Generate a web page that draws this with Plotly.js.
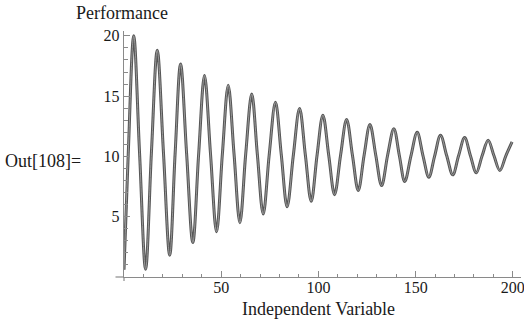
<!DOCTYPE html>
<html>
<head>
<meta charset="utf-8">
<script src="https://cdn.plot.ly/plotly-3.0.1.min.js"></script>
<style>
html,body{margin:0;padding:0;background:#fff;}
</style>
</head>
<body>
<div id="chart"></div>
<script>
// Key points: start, crossings, peaks and troughs
var xValues = [0, 2.2, 5, 8.0, 11.1, 14.1, 17.1, 20.3, 23.5, 26.3, 29.1, 32.2, 35.4, 38.4, 41.4, 44.5,
  47.6, 50.6, 53.6, 56.6, 59.6, 62.6, 65.7, 68.6, 71.6, 74.7, 77.9, 80.9, 83.9, 87.1, 90.3, 93.3,
  96.3, 99.3, 102.3, 105.3, 108.3, 111.4, 114.5, 117.5, 120.5, 123.5, 126.5, 129.5, 132.5, 135.6,
  138.8, 141.6, 144.4, 147.6, 150.8, 153.8, 156.8, 159.8, 162.8, 166.0, 169.1, 172.1, 175.2, 178.2,
  181.2, 184.2, 187.3, 190.3, 193.3, 196.4, 199.6];
var yValues = [0.6, 10.3, 20.0, 10.3, 0.64, 10.3, 18.8, 10.3, 1.8, 10.25, 17.67, 10.25, 2.86, 10.2, 16.7, 10.2,
  3.75, 10.2, 15.9, 10.2, 4.5, 10.2, 15.17, 10.15, 5.22, 10.15, 14.5, 10.15, 5.83, 10.1, 13.97, 10.1,
  6.28, 10.1, 13.42, 10.1, 6.83, 10.1, 13.06, 10.1, 7.17, 10.1, 12.64, 10.1, 7.58, 10.1,
  12.3, 10.1, 7.92, 10.05, 12.0, 10.05, 8.28, 10.05, 11.75, 10.05, 8.47, 10.05, 11.56, 10.05,
  8.64, 10.05, 11.33, 10.05, 8.83, 10.05, 11.2];
var xTicks = [50, 100, 150, 200];
var yTicks = [5, 10, 15, 20];
var yLabel = "Performance";
var xLabel = "Independent Variable";
var outLabel = "Out[108]=";

var serifFamily = "Liberation Serif";
var axisColor = "#8a8a8a";
var textColor = "#1a1a1a";

var traces = [
  {x: xValues, y: yValues, type: "scatter", mode: "lines",
   line: {color: "#555555", width: 3, shape: "spline", smoothing: 1}, hoverinfo: "skip"},
  {x: xValues, y: yValues, type: "scatter", mode: "lines",
   line: {color: "#a0a0a0", width: 0.9, shape: "spline", smoothing: 1}, hoverinfo: "skip"}
];

var layout = {
  width: 524, height: 324,
  margin: {l: 124, r: 3, t: 31, b: 47, pad: 0},
  paper_bgcolor: "#fff", plot_bgcolor: "#fff",
  showlegend: false,
  font: {family: serifFamily, size: 16, color: textColor},
  xaxis: {
    range: [0, 204.2], showgrid: false, zeroline: false,
    showline: true, linecolor: axisColor, linewidth: 1.2,
    ticks: "inside", ticklen: 6, tickwidth: 1.2, tickcolor: axisColor,
    tickvals: xTicks, ticktext: xTicks.map(String),
    ticklabeloverflow: "allow", ticklabelstandoff: -4,
    tickfont: {family: serifFamily, size: 16, color: textColor},
    minor: {ticks: "inside", ticklen: 3.5, tickwidth: 1, tickcolor: axisColor, dtick: 10, tick0: 0, showgrid: false}
  },
  yaxis: {
    range: [0, 20.4], showgrid: false, zeroline: false,
    showline: true, linecolor: axisColor, linewidth: 1.2,
    ticks: "inside", ticklen: 6, tickwidth: 1.2, tickcolor: axisColor,
    tickvals: yTicks, ticktext: yTicks.map(String),
    tickfont: {family: serifFamily, size: 16, color: textColor},
    minor: {ticks: "inside", ticklen: 3.5, tickwidth: 1, tickcolor: axisColor, dtick: 1, tick0: 0, showgrid: false}
  },
  shapes: [
    {type: "line", xref: "paper", yref: "paper", x0: -0.0214, x1: 0, y0: 0, y1: 0,
     line: {color: axisColor, width: 1.2}},
    {type: "line", xref: "paper", yref: "paper", x0: 0, x1: 0, y0: -0.0163, y1: 0,
     line: {color: axisColor, width: 1.2}}
  ],
  annotations: [
    {text: yLabel, xref: "paper", yref: "paper", x: -0.005, y: 1, yshift: 18,
     xanchor: "center", yanchor: "middle", showarrow: false,
     font: {family: serifFamily, size: 18, color: textColor}},
    {text: xLabel, xref: "paper", yref: "paper", x: 0.49, y: 0, yshift: -32,
     xanchor: "center", yanchor: "middle", showarrow: false,
     font: {family: serifFamily, size: 18, color: textColor}},
    {text: outLabel, xref: "paper", yref: "paper", x: -0.3, xshift: -2, y: 0.47,
     xanchor: "left", yanchor: "middle", showarrow: false,
     font: {family: serifFamily, size: 18, color: textColor}}
  ]
};

Plotly.newPlot("chart", traces, layout, {displayModeBar: false, staticPlot: true});
</script>
</body>
</html>
